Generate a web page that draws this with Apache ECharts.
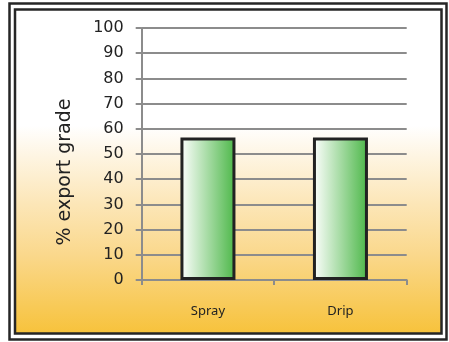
<!DOCTYPE html>
<html>
<head>
<meta charset="utf-8">
<script src="https://cdn.jsdelivr.net/npm/echarts@6/dist/echarts.min.js"></script>
<style>
  html, body { margin: 0; padding: 0; background: #ffffff; }
  #chart { width: 449px; height: 342px; }
</style>
</head>
<body>
<div id="chart"></div>
<script>
// Irrigation method comparison: share of fruit reaching export grade
var categories = ['Spray', 'Drip'];
var exportGrade = [56.5, 56.5];
var yTicks = { min: 0, max: 100, interval: 10 };
var yTitle = '% export grade';

var chart = echarts.init(document.getElementById('chart'), null, { renderer: 'canvas' });

var gridColor = '#8c8c8c';

var option = {
  animation: false,
  backgroundColor: '#ffffff',
  graphic: [
    // outer frame
    {
      type: 'rect', z: -10, silent: true,
      shape: { x: 9.5, y: 3.5, width: 437, height: 336 },
      style: { fill: '#ffffff', stroke: '#262626', lineWidth: 2.5 }
    },
    // inner panel with warm vertical gradient
    {
      type: 'rect', z: -9, silent: true,
      shape: { x: 15, y: 9.5, width: 426.5, height: 324 },
      style: {
        fill: new echarts.graphic.LinearGradient(0, 0, 0, 1, [
          { offset: 0, color: '#ffffff' },
          { offset: 0.36, color: '#ffffff' },
          { offset: 0.45, color: '#fef5e3' },
          { offset: 0.6, color: '#fce6b7' },
          { offset: 0.755, color: '#fad88c' },
          { offset: 1, color: '#f7c23a' }
        ]),
        stroke: '#262626', lineWidth: 2.5
      }
    },
    {
      type: 'text', z: 10, silent: true,
      x: 65, y: 172, rotation: Math.PI / 2,
      style: {
        text: yTitle,
        fill: '#222222',
        font: '19px "DejaVu Sans"',
        align: 'center',
        verticalAlign: 'middle'
      }
    }
  ],
  grid: { left: 141.7, right: 42.3, top: 28, bottom: 62 },
  xAxis: {
    type: 'category',
    data: categories,
    boundaryGap: true,
    axisLine: { lineStyle: { color: gridColor, width: 2 } },
    axisTick: { show: true, alignWithLabel: false, length: 5, lineStyle: { color: gridColor, width: 2 } },
    axisLabel: { margin: 25, color: '#222222', fontFamily: 'Noto Sans', fontSize: 13 }
  },
  yAxis: {
    type: 'value',
    min: yTicks.min, max: yTicks.max, interval: yTicks.interval,
    axisLine: { show: true, lineStyle: { color: gridColor, width: 2 } },
    axisTick: { show: true, length: 6, lineStyle: { color: gridColor, width: 2 } },
    splitLine: { show: true, lineStyle: { color: gridColor, width: 2 } },
    axisLabel: { margin: 18, color: '#222222', fontFamily: 'DejaVu Sans', fontSize: 16 }
  },
  series: [{
    type: 'bar',
    data: exportGrade,
    barWidth: 55,
    itemStyle: {
      color: new echarts.graphic.LinearGradient(0, 0, 1, 0, [
        { offset: 0, color: '#ffffff' },
        { offset: 1, color: '#4cb748' }
      ]),
      borderColor: '#222222',
      borderWidth: 3
    }
  }]
};

chart.setOption(option);
</script>
</body>
</html>
